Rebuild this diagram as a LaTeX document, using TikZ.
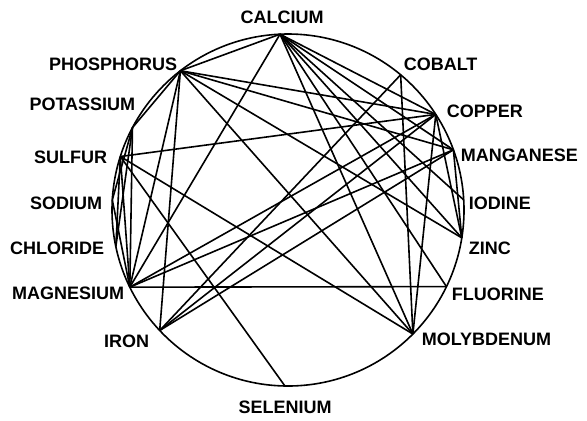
\documentclass[tikz,border=0pt]{standalone}
\usepackage{fontspec}
\setmainfont{Liberation Sans}
\usepackage{tikz}
\usetikzlibrary{calc}

\begin{document}
\begin{tikzpicture}[x=0.5pt, y=0.5pt, line width=0.8pt,
	mineral/.style={font=\bfseries\fontsize{9}{10}\selectfont, inner sep=0pt}]
	\useasboundingbox (0,0) rectangle (587,420);
	\coordinate (c) at (288,210);
	\draw (c) circle (176);
	\foreach \n/\a in {ca/92.6, p/127.7, k/152.1, s/162.3, na/176.7, cl/192, mg/206, fe/223.2, se/269, mo/315.2, f/334.2, zn/350.9, i/3.3, mn/20, cu/32.9, co/50.2}
		\coordinate (\n) at ($(c)+(\a:176)$);
	\node[mineral] (lca) at (282,403) {CALCIUM};
	\node[mineral, anchor=east] (lp) at (178,356) {PHOSPHORUS};
	\node[mineral, anchor=east] (lk) at (136,316) {POTASSIUM};
	\node[mineral, anchor=east] (ls) at (108,263) {SULFUR};
	\node[mineral, anchor=east] (lna) at (103,217) {SODIUM};
	\node[mineral, anchor=east] (lcl) at (105,172) {CHLORIDE};
	\node[mineral, anchor=east] (lmg) at (125,127) {MAGNESIUM};
	\node[mineral, anchor=east] (lfe) at (150,79) {IRON};
	\node[mineral] (lse) at (285,13) {SELENIUM};
	\node[mineral, anchor=west] (lmo) at (421,81) {MOLYBDENUM};
	\node[mineral, anchor=west] (lf) at (451,126) {FLUORINE};
	\node[mineral, anchor=west] (lzn) at (468,172) {ZINC};
	\node[mineral, anchor=west] (li) at (468,217) {IODINE};
	\node[mineral, anchor=west] (lmn) at (460,265) {MANGANESE};
	\node[mineral, anchor=west] (lcu) at (446,309) {COPPER};
	\node[mineral, anchor=west] (lco) at (403,356) {COBALT};
	\foreach \a/\b in {ca/p, ca/mg, ca/cu, ca/mn, ca/i, ca/zn, ca/f, ca/mo,
		p/k, p/cu, p/mn, p/zn, p/mo, p/mg, p/fe,
		k/mg, k/na, k/cl, s/cu, s/mo, s/se, s/mg, s/cl, na/mg,
		mg/f, mg/mn, mg/cu, fe/co, fe/cu, fe/mn,
		co/mo, cu/mo, cu/zn, mn/zn}
		\draw (\a) -- (\b);
\end{tikzpicture}
\end{document}
